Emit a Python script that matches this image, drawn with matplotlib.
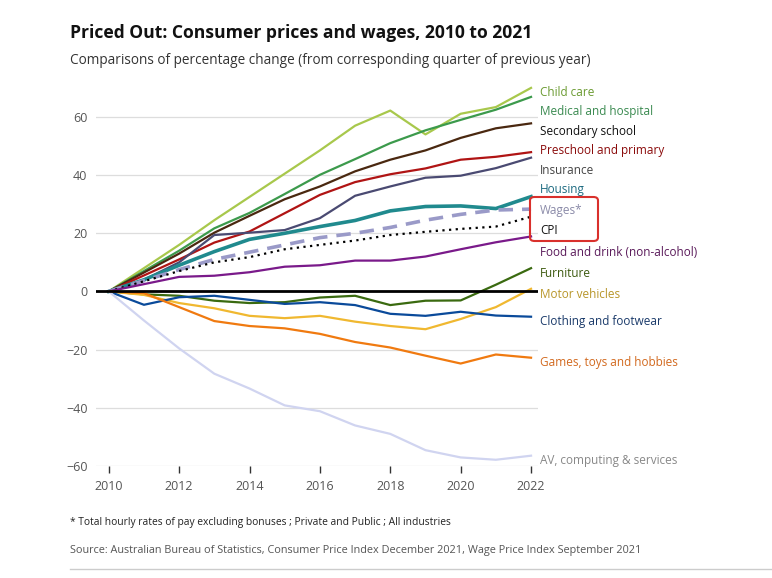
import matplotlib.pyplot as plt
from matplotlib.patches import FancyBboxPatch

plt.rcParams['font.family'] = ['Open Sans', 'DejaVu Sans']

years = list(range(2010, 2023))

# Percentage change since 2010, one value per year
child_care = [0, 8, 16, 24.5, 32.5, 40.5, 48.5, 57, 62.2, 54, 61.1, 63.4, 70]
medical = [0, 7, 14, 21.7, 27, 33.5, 40.1, 45.5, 51, 55.4, 59, 62.5, 66.9]
secondary = [0, 6.5, 13, 20.2, 26, 31.7, 36.1, 41.3, 45.3, 48.5, 52.8, 56.1, 57.8]
preschool = [0, 5.5, 11, 16.8, 20.6, 26.9, 33.2, 37.6, 40.3, 42.3, 45.3, 46.3, 47.9]
insurance = [0, 4, 10, 19.4, 20.2, 21.1, 25.2, 32.9, 36.1, 39.1, 39.8, 42.4, 46]
housing = [0, 4, 9, 13.7, 17.9, 20, 22.3, 24.4, 27.7, 29.2, 29.4, 28.5, 32.6]
wages = [0, 3.7, 7.5, 11, 13.5, 16, 18.5, 20, 22, 24.5, 26.5, 28, 28.3]
cpi = [0, 3.5, 7, 10, 11.8, 14.5, 16, 17.5, 19.4, 20.5, 21.5, 22.3, 25.7]
food = [0, 2.5, 5, 5.4, 6.6, 8.5, 9, 10.6, 10.6, 12, 14.5, 16.9, 18.9]
furniture = [0, -1, -1.5, -3.2, -4, -3.7, -2.1, -1.5, -4.7, -3.2, -3.1, 2.3, 8]
motor = [0, -1.2, -4, -5.8, -8.4, -9.2, -8.4, -10.4, -11.9, -13, -9.5, -5.4, 0.9]
clothing = [0, -4.6, -2, -1.5, -2.9, -4.3, -3.7, -4.7, -7.7, -8.4, -7, -8.3, -8.7]
games = [0, -0.6, -5.4, -10.2, -11.9, -12.7, -14.6, -17.4, -19.3, -22.1, -24.8, -21.7, -22.8]
av_computing = [0, -10, -19.6, -28.3, -33.4, -39.2, -41.2, -46.1, -49, -54.6, -57.1, -57.9, -56.5]

# (label, values, line colour, text colour, label y, style)
series = [
    ("Child care", child_care, "#a8c84c", "#6a9a30", 68.5, {}),
    ("Medical and hospital", medical, "#3c9a4c", "#3a8a50", 61.9, {}),
    ("Secondary school", secondary, "#4a2810", "#111111", 55.0, {}),
    ("Preschool and primary", preschool, "#b01414", "#8a0a0a", 48.4, {}),
    ("Insurance", insurance, "#4a4a72", "#444444", 41.5, {}),
    ("Housing", housing, "#208a8e", "#1c6a80", 34.9, {"lw": 2.6}),
    ("Wages*", wages, "#9a9ac8", "#8a8aa8", 27.7, {"lw": 2.6, "ls": (0, (4, 2.5))}),
    ("CPI", cpi, "#000000", "#111111", 21.0, {"lw": 1.6, "ls": (0, (1, 2))}),
    ("Food and drink (non-alcohol)", food, "#7a1a8a", "#5a1a5a", 13.5, {}),
    ("Furniture", furniture, "#3a6a10", "#3d5a10", 6.2, {}),
    ("Motor vehicles", motor, "#f0b830", "#b8962a", -1.0, {}),
    ("Clothing and footwear", clothing, "#0a4a9a", "#1a3a6a", -10.2, {}),
    ("Games, toys and hobbies", games, "#f07a10", "#d2691e", -24.3, {}),
    ("AV, computing & services", av_computing, "#d0d4f0", "#888888", -58.0, {}),
]

fig = plt.figure(figsize=(7.72, 5.78), dpi=100)
ax = fig.add_axes([0.124, 0.194, 0.573, 0.664])

for name, vals, col, tcol, ly, st in series:
    ax.plot(years, vals, color=col, lw=st.get("lw", 1.6), ls=st.get("ls", "-"),
            solid_joinstyle="round", zorder=3)
    ax.text(2022.25, ly, name, color=tcol, fontsize=8.5, va="center", ha="left",
            clip_on=False)

ax.axhline(0, color="black", lw=2, zorder=4)

ax.set_xlim(2009.63, 2022.2)
ax.set_ylim(-60, 72)
ax.set_xticks(range(2010, 2023, 2))
ax.set_yticks([-60, -40, -20, 0, 20, 40, 60])
ax.yaxis.grid(True, color="#dddddd", lw=0.9)
ax.set_axisbelow(True)
for s in ax.spines.values():
    s.set_visible(False)
ax.tick_params(axis="y", length=0, labelsize=9, colors="#555555", pad=6)
ax.tick_params(axis="x", length=5, width=1, direction="out", labelsize=9,
               colors="#333333", labelcolor="#555555", pad=5)

# red box round Wages and CPI labels
box = FancyBboxPatch((530 / 772, 1 - 241 / 578), 68 / 772, 44 / 578,
                     boxstyle="round,pad=0,rounding_size=0.006",
                     transform=fig.transFigure, fill=False,
                     ec="#d9302c", lw=1.5)
fig.patches.append(box)

fig.text(70 / 772, 1 - 33 / 578, "Priced Out: Consumer prices and wages, 2010 to 2021",
         fontsize=12.6, fontweight="bold", color="#111111", va="center")
fig.text(70 / 772, 1 - 60 / 578,
         "Comparisons of percentage change (from corresponding quarter of previous year)",
         fontsize=9.8, color="#333333", va="center")
fig.text(70 / 772, 1 - 522 / 578,
         "* Total hourly rates of pay excluding bonuses ; Private and Public ; All industries",
         fontsize=7.4, color="#222222", va="center")
fig.text(70 / 772, 1 - 550 / 578,
         "Source: Australian Bureau of Statistics, Consumer Price Index December 2021, Wage Price Index September 2021",
         fontsize=7.8, color="#555555", va="center")
fig.add_artist(plt.Line2D([70 / 772, 1.0], [1 - 569 / 578] * 2,
                          color="#cccccc", lw=1, transform=fig.transFigure))

fig.savefig("out.png", dpi=100, facecolor="white")
